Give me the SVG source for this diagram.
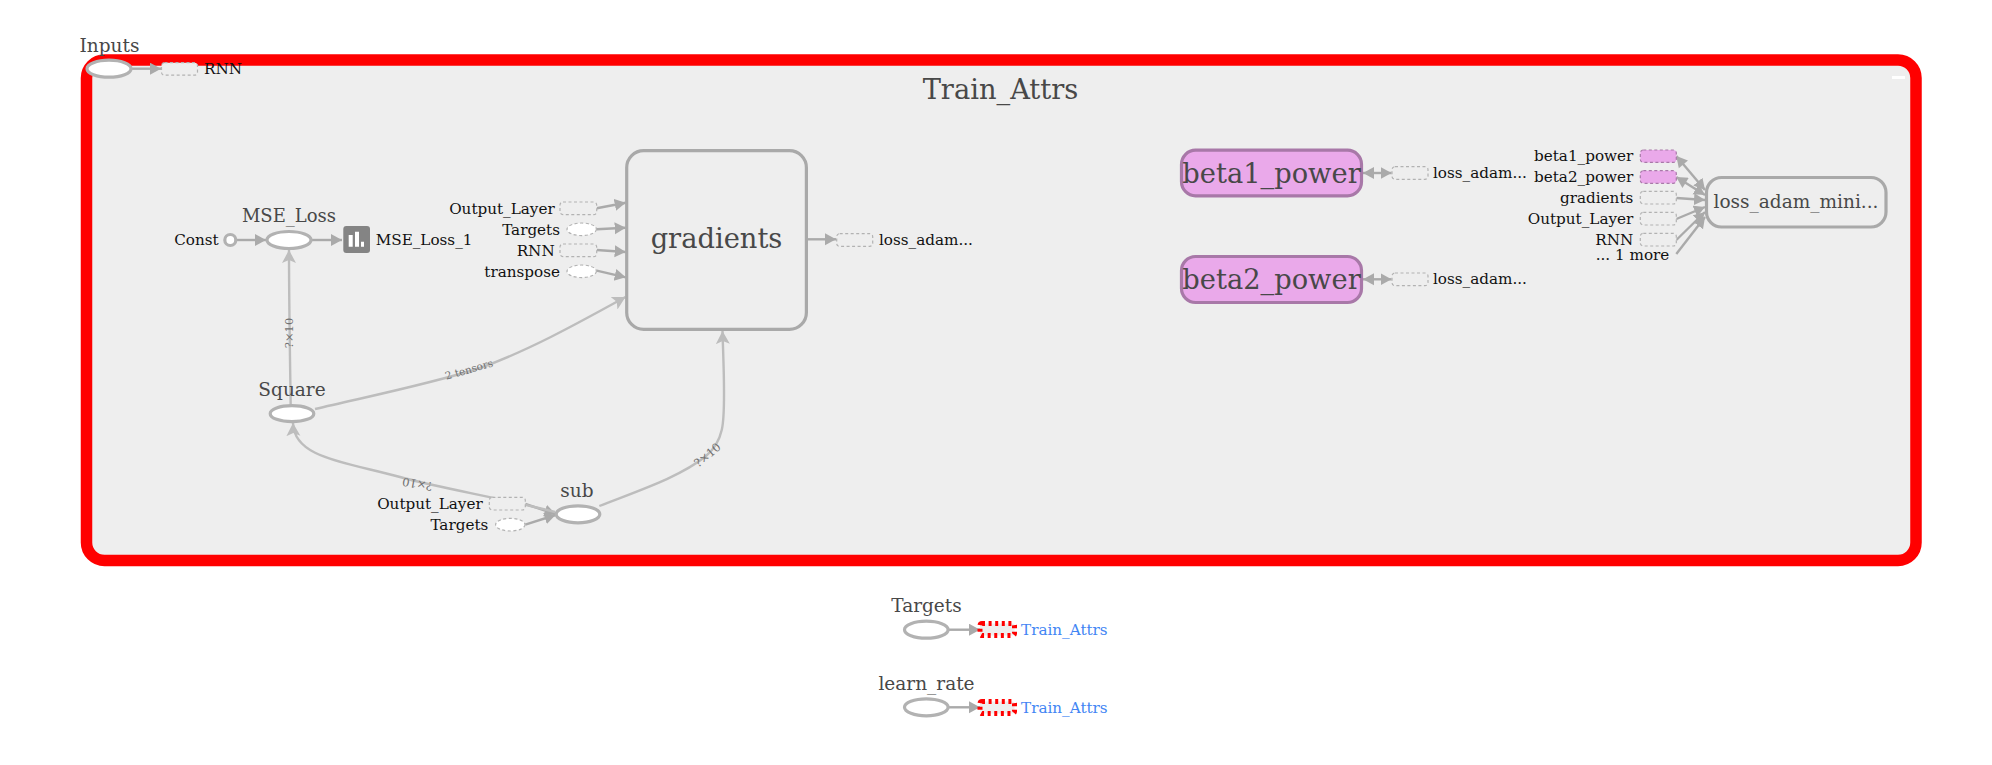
<svg xmlns="http://www.w3.org/2000/svg" width="1992" height="765" viewBox="0 0 1992 765">
<style>
text{font-family:"DejaVu Serif",serif}
.a{font-size:15.2px;fill:#111}
.n{font-size:18.5px;fill:#484848;text-anchor:middle}
.big{font-size:27.3px;fill:#484848;text-anchor:middle}
.e{text-anchor:end}
.op{fill:#fff;stroke:#b2b2b2;stroke-width:3.2}
.dr{fill:#eee;stroke:#b2b2b2;stroke-width:1.2;stroke-dasharray:3 2.5}
.de{fill:#fff;stroke:#b2b2b2;stroke-width:1.2;stroke-dasharray:3 2.5}
.dp{fill:#eaa9ea;stroke:#a878a8;stroke-width:1.2;stroke-dasharray:3 2.5}
.dx{fill:#eee;stroke:#f00;stroke-width:5;stroke-dasharray:3 3.6}
.g{fill:#eee;stroke:#a9a9a9;stroke-width:3.2}
.p{fill:#eaa9ea;stroke:#a878a8;stroke-width:3.2}
.c{fill:none;stroke:#aaa;stroke-width:2.4;marker-end:url(#ah)}
.b{marker-start:url(#ahs)}
.ann{fill:none;stroke:#bdbdbd;stroke-width:2.4;marker-end:url(#ahl)}
.l{font-size:10.5px;fill:#707070;text-anchor:middle}
.s{font-size:11.5px}
.lk{font-size:15.2px;fill:#4285f4}
</style>
<defs>
<marker id="ah" markerUnits="userSpaceOnUse" markerWidth="14" markerHeight="14" refX="11" refY="6" orient="auto"><path d="M0 0L11 6L0 12Z" fill="#aaa"/></marker>
<marker id="ahs" markerUnits="userSpaceOnUse" markerWidth="14" markerHeight="14" refX="0" refY="6" orient="auto"><path d="M11 0L0 6L11 12Z" fill="#aaa"/></marker>
<marker id="ahl" markerUnits="userSpaceOnUse" markerWidth="16" markerHeight="16" refX="13" refY="7" orient="auto"><path d="M0 0L13 7L0 14L3 7Z" fill="#bdbdbd"/></marker>
</defs>
<g id="Train_Attrs">
<rect x="86.5" y="60" width="1829.5" height="500.5" rx="18" fill="#eee" stroke="#f00" stroke-width="11.5"/>
<text class="big" x="1000.5" y="99.3">Train_Attrs</text>
<rect x="1892" y="76" width="13" height="3" fill="#fff"/>
</g>
<g id="connectors">
<path class="c" d="M131 68.7H161"/>
<path class="c" d="M236 240H266"/>
<path class="c" d="M312 240H342"/>
<path class="c" d="M596.7 208.3L625.7 202.7"/>
<path class="c" d="M596.7 229.3L625.7 227.7"/>
<path class="c" d="M596.7 250L625.7 252"/>
<path class="c" d="M596.7 270.7L625.7 277.3"/>
<path class="c" d="M807 239.3H836"/>
<path class="c b" d="M1363 173H1391.5"/>
<path class="c b" d="M1363 279.3H1391.5"/>
<path class="c b" d="M1676.3 156L1705 190"/>
<path class="c b" d="M1676.3 177L1705 195"/>
<path class="c" d="M1676.3 198L1705 200"/>
<path class="c" d="M1676.3 219L1705 207"/>
<path class="c" d="M1676.3 240L1705 212"/>
<path class="c" d="M1676.3 254L1705 217"/>
<path class="c" d="M525.3 504L555.5 514"/>
<path class="c" d="M525.3 524.7L555.5 515"/>
<path class="c" d="M949 629.7H980"/>
<path class="c" d="M949 707.3H980"/>
<path class="ann" d="M290.7 405C290 360 289 300 289 250"/>
<path class="ann" d="M315 409C370 396 430 384 480 368C530 350 580 322 625.5 297"/>
<path class="ann" d="M555 512C500 498 440 488 400 477C340 461 294 457 293 423"/>
<path class="ann" d="M599.3 506C640 490 680 477 706 456C725 440 724 420 724 390C724 370 723 350 722.5 331"/>
<text class="l s" transform="translate(293 333) rotate(-90)">?×10</text>
<text class="l" transform="translate(470 373) rotate(-16)">2 tensors</text>
<text class="l s" transform="translate(418 480) rotate(190)">?×10</text>
<text class="l s" transform="translate(710 458) rotate(-40)">?×10</text>
</g>
<g id="Inputs">
<text class="n" x="109.5" y="51.7">Inputs</text>
<ellipse class="op" cx="109" cy="68.7" rx="22" ry="8.5"/>
<rect class="dr" x="161.5" y="62.7" width="36" height="12.5" rx="3"/>
<text class="a" x="204" y="74">RNN</text>
</g>
<g id="MSE_Loss">
<text class="n" style="font-size:18px" x="289" y="221.7">MSE_Loss</text>
<text class="a e" x="218.7" y="245">Const</text>
<circle class="op" cx="230.3" cy="240" r="5.5"/>
<ellipse class="op" cx="289" cy="240" rx="22" ry="8.5"/>
</g>
<g id="MSE_Loss_1">
<rect x="343.3" y="226" width="26.7" height="27" rx="3" fill="#848484"/>
<path d="M348.7 235h4v11.7h-4zM355 231.7h4v15h-4zM361 241.7h3v5h-3z" fill="#fff"/>
<text class="a" x="375.7" y="245">MSE_Loss_1</text>
</g>
<g id="gradients">
<rect class="g" x="626.7" y="150.7" width="179.7" height="178.700" rx="17"/>
<text class="big" x="716.5" y="248">gradients</text>
<rect class="dr" x="560" y="202" width="36.7" height="12.7" rx="3"/>
<text class="a e" x="554.7" y="214">Output_Layer</text>
<ellipse class="de" cx="581.7" cy="229.3" rx="14.7" ry="6.3"/>
<text class="a e" x="560" y="235">Targets</text>
<rect class="dr" x="560" y="244" width="36.7" height="12.7" rx="3"/>
<text class="a e" x="554.7" y="256">RNN</text>
<ellipse class="de" cx="581.7" cy="271.3" rx="14.7" ry="6.3"/>
<text class="a e" x="560" y="276.7">transpose</text>
<rect class="dr" x="836.7" y="233.7" width="36" height="12.7" rx="3"/>
<text class="a" x="879" y="245">loss_adam...</text>
</g>
<g id="Square">
<text class="n" x="292" y="396">Square</text>
<ellipse class="op" cx="292" cy="413.7" rx="21.8" ry="8"/>
</g>
<g id="sub">
<text class="n" x="577" y="496.7">sub</text>
<ellipse class="op" cx="578" cy="514.3" rx="21.8" ry="8.5"/>
<rect class="dr" x="489.3" y="497.3" width="36" height="12.7" rx="3"/>
<text class="a e" x="482.7" y="509">Output_Layer</text>
<ellipse class="de" cx="510.3" cy="524.7" rx="14.7" ry="6.3"/>
<text class="a e" x="488.3" y="530">Targets</text>
</g>
<g id="beta1_power">
<rect class="p" x="1181.5" y="150.2" width="180" height="45.6" rx="14"/>
<text class="big" x="1271.5" y="182.7">beta1_power</text>
<rect class="dr" x="1392" y="166.7" width="36" height="12.6" rx="3"/>
<text class="a" x="1433" y="177.7">loss_adam...</text>
</g>
<g id="beta2_power">
<rect class="p" x="1181.5" y="256.5" width="180" height="46" rx="14"/>
<text class="big" x="1271.5" y="289">beta2_power</text>
<rect class="dr" x="1392" y="273" width="36" height="12.7" rx="3"/>
<text class="a" x="1433" y="284">loss_adam...</text>
</g>
<g id="loss_adam_mini">
<rect class="g" x="1706.500" y="177.500" width="179.500" height="49.500" rx="15"/>
<text class="n" x="1796" y="208.300">loss_adam_mini...</text>
<rect class="dp" x="1640.300" y="150" width="36" height="12.400" rx="3"/>
<text class="a e" x="1633.300" y="161">beta1_power</text>
<rect class="dp" x="1640.300" y="170.700" width="36" height="12.600" rx="3"/>
<text class="a e" x="1633.300" y="181.700">beta2_power</text>
<rect class="dr" x="1640.300" y="191.300" width="36" height="12.700" rx="3"/>
<text class="a e" x="1633.300" y="202.700">gradients</text>
<rect class="dr" x="1640.300" y="212.300" width="36" height="12.700" rx="3"/>
<text class="a e" x="1633.300" y="224">Output_Layer</text>
<rect class="dr" x="1640.300" y="233.300" width="36" height="12.700" rx="3"/>
<text class="a e" x="1633.300" y="245">RNN</text>
<text class="a e" x="1669.300" y="260">... 1 more</text>
</g>
<g id="Targets">
<text class="n" x="926.500" y="611.700">Targets</text>
<ellipse class="op" cx="926.300" cy="629.700" rx="21.800" ry="8.500"/>
<rect class="dx" x="980" y="623.500" width="34.500" height="12" rx="2"/>
<text class="lk" x="1021" y="635">Train_Attrs</text>
</g>
<g id="learn_rate">
<text class="n" x="926.500" y="690">learn_rate</text>
<ellipse class="op" cx="926.300" cy="707.300" rx="21.800" ry="8.500"/>
<rect class="dx" x="980" y="701.500" width="34.500" height="12" rx="2"/>
<text class="lk" x="1021" y="712.700">Train_Attrs</text>
</g>
</svg>
